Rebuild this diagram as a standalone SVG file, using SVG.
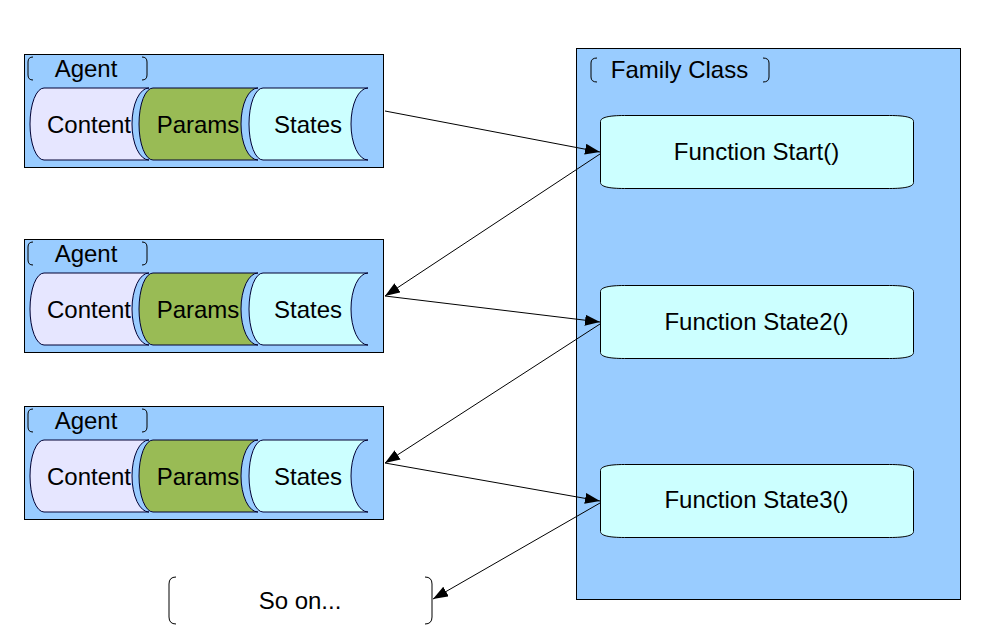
<svg xmlns="http://www.w3.org/2000/svg" width="998" height="636" viewBox="0 0 998 636">
<defs>
<style>
.t{font-family:"Liberation Sans",Arial,sans-serif;font-size:24px;fill:#000;text-anchor:middle}
.box{fill:#99ccff;stroke:#000;stroke-width:1}
.br{fill:none;stroke:#000;stroke-width:1}
.content{fill:#e6e6ff;stroke:#000033;stroke-width:1}
.params{fill:#99bb55;stroke:#000033;stroke-width:1}
.states{fill:#ccffff;stroke:#000033;stroke-width:1}
.func{fill:#ccffff;stroke:#000;stroke-width:1}
.con{stroke:#000;stroke-width:1;fill:none;marker-end:url(#ah)}
</style>
<marker id="ah" markerUnits="userSpaceOnUse" markerWidth="16" markerHeight="12" refX="15" refY="5.5" orient="auto">
<path d="M0,0 L15,5.5 L0,11 Z" fill="#000"/>
</marker>
<path id="seg" d="M14,0 L119,0 A17,36 0 0 0 119,72 L14,72 A14,36 0 0 1 14,0 Z"/>
<path id="fn" d="M0,6 C0,2 8,0 24,0 L289,0 C305,0 313,2 313,6 L313,67 C313,71 305,73 289,73 L24,73 C8,73 0,71 0,67 Z"/>
</defs>

<rect x="0" y="0" width="998" height="636" fill="#fff"/>

<g id="family-class">
<rect class="box" x="576.5" y="48.5" width="384" height="551"/>
<path class="br" d="M597,58 Q591,58 591,63 L591,77 Q591,82 597,82 M763,58 Q769,58 769,63 L769,77 Q769,82 763,82"/>
<text class="t" x="679.5" y="78">Family Class</text>
</g>

<g id="func-start">
<use href="#fn" class="func" x="600.5" y="115.5"/>
<text class="t" x="756.5" y="160">Function Start()</text>
</g>
<g id="func-state2">
<use href="#fn" class="func" x="600.5" y="285.5"/>
<text class="t" x="756.5" y="330">Function State2()</text>
</g>
<g id="func-state3">
<use href="#fn" class="func" x="600.5" y="464.5"/>
<text class="t" x="756.5" y="508">Function State3()</text>
</g>

<g id="agent1">
<rect class="box" x="24.5" y="54.5" width="359" height="113"/>
<path class="br" d="M33,57 Q28,57 28,62 L28,75 Q28,80 33,80 M142,57 Q147,57 147,62 L147,75 Q147,80 142,80"/>
<text class="t" x="86" y="77">Agent</text>
<use href="#seg" class="content" x="30" y="88"/>
<use href="#seg" class="params" x="139" y="88"/>
<use href="#seg" class="states" x="249" y="88"/>
<text class="t" x="89" y="133">Content</text>
<text class="t" x="198" y="133">Params</text>
<text class="t" x="308" y="133">States</text>
</g>

<g id="agent2">
<rect class="box" x="24.5" y="239.5" width="359" height="113"/>
<path class="br" d="M33,242 Q28,242 28,247 L28,260 Q28,265 33,265 M142,242 Q147,242 147,247 L147,260 Q147,265 142,265"/>
<text class="t" x="86" y="262">Agent</text>
<use href="#seg" class="content" x="30" y="273"/>
<use href="#seg" class="params" x="139" y="273"/>
<use href="#seg" class="states" x="249" y="273"/>
<text class="t" x="89" y="318">Content</text>
<text class="t" x="198" y="318">Params</text>
<text class="t" x="308" y="318">States</text>
</g>

<g id="agent3">
<rect class="box" x="24.5" y="406.5" width="359" height="113"/>
<path class="br" d="M33,409 Q28,409 28,414 L28,427 Q28,432 33,432 M142,409 Q147,409 147,414 L147,427 Q147,432 142,432"/>
<text class="t" x="86" y="429">Agent</text>
<use href="#seg" class="content" x="30" y="440"/>
<use href="#seg" class="params" x="139" y="440"/>
<use href="#seg" class="states" x="249" y="440"/>
<text class="t" x="89" y="485">Content</text>
<text class="t" x="198" y="485">Params</text>
<text class="t" x="308" y="485">States</text>
</g>

<g id="so-on">
<path class="br" d="M176,577 Q169,577 169,584 L169,617 Q169,624 176,624 M425,577 Q432,577 432,584 L432,617 Q432,624 425,624"/>
<text class="t" x="300" y="609">So on...</text>
</g>

<g id="connectors">
<line class="con" x1="385" y1="111" x2="600" y2="152"/>
<line class="con" x1="600" y1="154" x2="385" y2="296"/>
<line class="con" x1="385" y1="296" x2="600" y2="322"/>
<line class="con" x1="600" y1="324" x2="385" y2="463"/>
<line class="con" x1="385" y1="463" x2="600" y2="501"/>
<line class="con" x1="600" y1="503" x2="433" y2="599"/>
</g>
</svg>
